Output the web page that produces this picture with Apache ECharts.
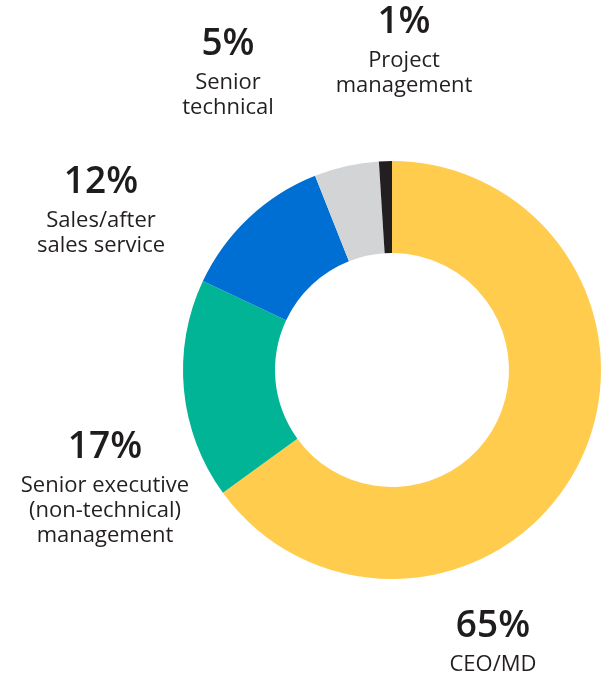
<!DOCTYPE html>
<html>
<head>
<meta charset="utf-8">
<script src="https://cdn.jsdelivr.net/npm/echarts@6/dist/echarts.min.js"></script>
<style>
  html, body { margin: 0; padding: 0; background: #ffffff; }
  #chart { width: 610px; height: 673px; }
</style>
</head>
<body>
<div id="chart"></div>
<script>
// Role breakdown, in percent, clockwise from 12 o'clock
const categories = [
  'CEO/MD',
  'Senior executive\n(non-technical)\nmanagement',
  'Sales/after\nsales service',
  'Senior\ntechnical',
  'Project\nmanagement'
];
const shares = [65, 17, 12, 5, 1];
const sliceColors = ['#FFCC4E', '#00B495', '#006FD4', '#D3D4D5', '#231F20'];

// Label block anchors: horizontal centre and top edge of each text block
const labelAnchors = [
  [493, 601],
  [105, 422],
  [101, 157],
  [228, 19],
  [404, -3]
];

const chart = echarts.init(document.getElementById('chart'), null, { renderer: 'canvas' });

const FONT = '"Open Sans", sans-serif';

chart.setOption({
  animation: false,
  backgroundColor: '#ffffff',
  series: [{
    type: 'pie',
    center: [392, 370],
    radius: [117, 209],
    startAngle: 90,
    clockwise: true,
    avoidLabelOverlap: false,
    emphasis: { disabled: true },
    itemStyle: { borderWidth: 0 },
    labelLine: { show: false },
    label: {
      show: true,
      position: 'outside',
      formatter: p => '{p|' + p.value + '%}\n' +
        p.name.split('\n').map(s => '{t|' + s + '}').join('\n'),
      align: 'center',
      rich: {
        p: { fontFamily: FONT, fontSize: 37, fontWeight: 600, color: '#1F1C1D', lineHeight: 51, align: 'center' },
        t: { fontFamily: FONT, fontSize: 22, fontWeight: 'normal', color: '#231F20', lineHeight: 25, align: 'center' }
      }
    },
    labelLayout: params => ({
      x: labelAnchors[params.dataIndex][0],
      y: labelAnchors[params.dataIndex][1],
      align: 'center',
      verticalAlign: 'top'
    }),
    data: categories.map((name, i) => ({
      name: name,
      value: shares[i],
      itemStyle: { color: sliceColors[i] }
    }))
  }]
});
</script>
</body>
</html>
